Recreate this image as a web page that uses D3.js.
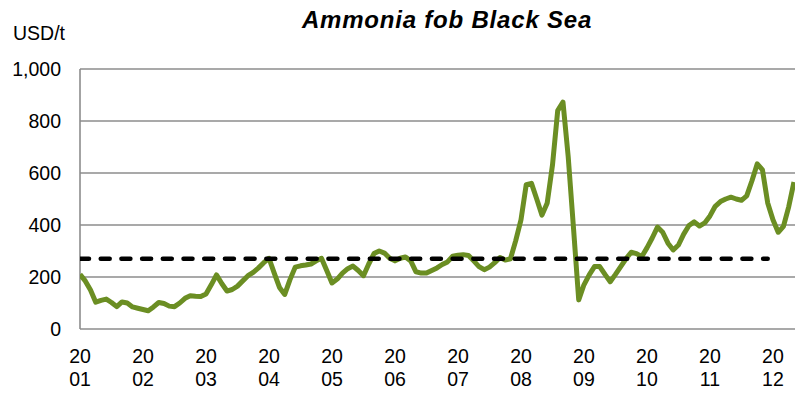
<!DOCTYPE html>
<html>
<head>
<meta charset="utf-8">
<script src="https://cdn.jsdelivr.net/npm/d3@7"></script>
<style>
  body { margin: 0; background: #fff; }
  svg { display: block; font-family: "Liberation Sans", Arial, sans-serif; }
  .tick-label { font-size: 19.5px; fill: #000; }
  .grid line { stroke: #8c8c8c; stroke-width: 1.6px; }
</style>
</head>
<body>
<div id="chart"></div>
<script>
// monthly prices, USD/t, Jan 2001 onwards
var p2001 = [210, 185, 150, 103, 110, 115, 102, 86, 104, 100, 85, 80];
var p2002 = [75, 70, 85, 102, 98, 88, 86, 100, 118, 128, 126, 125];
var p2003 = [135, 170, 208, 175, 146, 152, 165, 185, 205, 218, 235, 255];
var p2004 = [272, 215, 160, 133, 190, 238, 243, 246, 250, 262, 272, 225];
var p2005 = [177, 192, 215, 232, 242, 225, 205, 250, 290, 300, 292, 272];
var p2006 = [262, 272, 277, 262, 220, 215, 215, 225, 235, 248, 258, 280];
var p2007 = [284, 286, 283, 262, 240, 228, 238, 255, 275, 265, 270, 340];
var p2008 = [420, 555, 560, 500, 438, 485, 630, 840, 873, 662, 390, 112];
var p2009 = [170, 208, 240, 240, 210, 182, 210, 240, 270, 295, 290, 278];
var p2010 = [312, 350, 392, 372, 330, 304, 323, 365, 398, 412, 396, 408];
var p2011 = [435, 472, 490, 500, 507, 500, 495, 512, 570, 635, 612, 485];
var p2012 = [420, 372, 395, 470, 565];

var years = ['2001', '2002', '2003', '2004', '2005', '2006', '2007', '2008', '2009', '2010', '2011', '2012'];
var yTicks = [0, 200, 400, 600, 800, 1000];
var avgPrice = 270;          // dashed long-term average
var avgMonths = [0, 131];    // Jan 2001 .. Dec 2011

var prices = [].concat(p2001, p2002, p2003, p2004, p2005, p2006, p2007, p2008, p2009, p2010, p2011, p2012);
var data = prices.map(function(v, i) { return { m: i, v: v }; });

var W = 795, H = 393;
var plotLeft = 80, plotRight = 795, plotTop = 69, plotBottom = 329;

var x = d3.scaleLinear().domain([0, 136.2]).range([plotLeft, plotRight]);
var y = d3.scaleLinear().domain([0, 1000]).range([plotBottom, plotTop]);

var svg = d3.select('#chart').append('svg')
  .attr('width', W)
  .attr('height', H);

// horizontal gridlines
svg.append('g')
  .attr('class', 'grid')
  .selectAll('line')
  .data(yTicks)
  .enter().append('line')
  .attr('x1', plotLeft).attr('x2', plotRight)
  .attr('y1', function(d) { return y(d); })
  .attr('y2', function(d) { return y(d); });

// left axis line
svg.append('line')
  .attr('x1', plotLeft).attr('x2', plotLeft)
  .attr('y1', y(1000)).attr('y2', y(0))
  .attr('stroke', '#8c8c8c')
  .attr('stroke-width', 1.6);

// y tick labels
svg.append('g')
  .selectAll('text')
  .data(yTicks)
  .enter().append('text')
  .attr('class', 'tick-label')
  .attr('x', 61)
  .attr('y', function(d) { return y(d); })
  .attr('dy', '0.36em')
  .attr('text-anchor', 'end')
  .text(d3.format(','));

// x tick labels, year split on two lines
var xl = svg.append('g')
  .selectAll('text')
  .data(years)
  .enter().append('text')
  .attr('class', 'tick-label')
  .attr('text-anchor', 'middle')
  .attr('transform', function(d, i) { return 'translate(' + x(i * 12) + ',0)'; });
xl.append('tspan').attr('x', 0).attr('y', 363).text(function(d) { return d.slice(0, 2); });
xl.append('tspan').attr('x', 0).attr('y', 386).text(function(d) { return d.slice(2); });

// unit label and title
svg.append('text')
  .attr('class', 'tick-label')
  .attr('x', 13).attr('y', 40)
  .text('USD/t');

svg.append('text')
  .attr('x', 447).attr('y', 28)
  .attr('text-anchor', 'middle')
  .style('font-size', '24px')
  .style('letter-spacing', '0.8px')
  .style('font-weight', 'bold')
  .style('font-style', 'italic')
  .text('Ammonia fob Black Sea');

// clip so the series stops at the plot edge
svg.append('clipPath').attr('id', 'plot-clip')
  .append('rect')
  .attr('x', plotLeft).attr('y', 0)
  .attr('width', plotRight - plotLeft).attr('height', H);

var plot = svg.append('g').attr('clip-path', 'url(#plot-clip)');

var line = d3.line()
  .x(function(d) { return x(d.m); })
  .y(function(d) { return y(d.v); });

plot.append('path')
  .datum(data)
  .attr('fill', 'none')
  .attr('stroke', '#6b8e23')
  .attr('stroke-width', 5)
  .attr('stroke-linejoin', 'round')
  .attr('d', line);

// average line
plot.append('line')
  .attr('x1', x(avgMonths[0])).attr('x2', x(avgMonths[1]))
  .attr('y1', y(avgPrice)).attr('y2', y(avgPrice))
  .attr('stroke', '#000')
  .attr('stroke-width', 4.5)
  .attr('stroke-linecap', 'round')
  .attr('stroke-dasharray', '9,11.7');
</script>
</body>
</html>
